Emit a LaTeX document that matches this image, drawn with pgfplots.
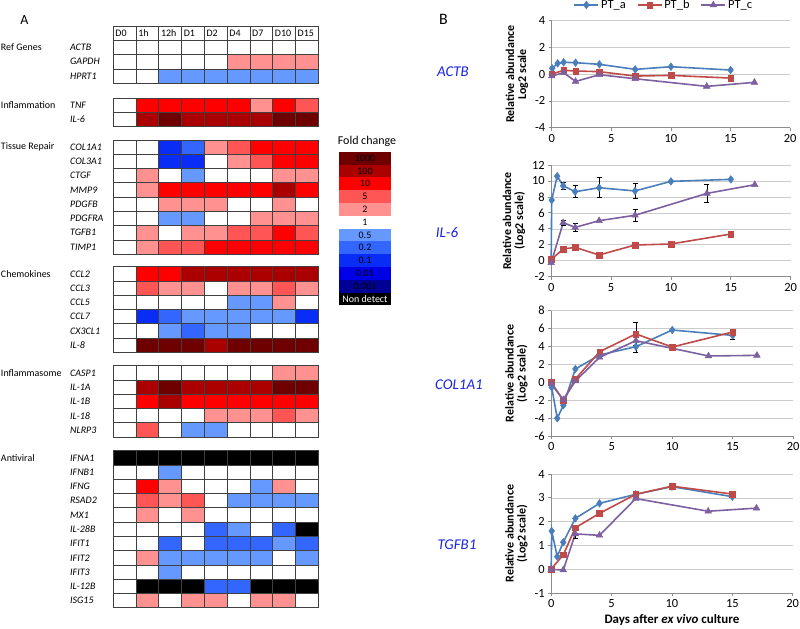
\documentclass[border=0pt]{standalone}
\usepackage{fontspec}
\setmainfont{Carlito}
\usepackage{pgfplots}
\pgfplotsset{compat=1.18}
\newcommand{\fs}[1]{\fontsize{#1}{#1}\selectfont}
\definecolor{cA}{RGB}{74,126,187}
\definecolor{cB}{RGB}{190,75,72}
\definecolor{cC}{RGB}{125,96,160}
\definecolor{gene}{RGB}{25,35,225}
\definecolor{gridc}{RGB}{64,64,64}
\definecolor{h0}{RGB}{0,0,0}
\definecolor{h1}{RGB}{0,0,150}
\definecolor{h2}{RGB}{0,0,230}
\definecolor{h3}{RGB}{10,45,245}
\definecolor{h4}{RGB}{51,102,255}
\definecolor{h5}{RGB}{102,153,255}
\definecolor{h6}{RGB}{255,255,255}
\definecolor{h7}{RGB}{255,145,145}
\definecolor{h8}{RGB}{255,85,85}
\definecolor{h9}{RGB}{255,0,0}
\definecolor{h10}{RGB}{170,0,0}
\definecolor{h11}{RGB}{110,0,0}
\pgfdeclareplotmark{cell}{\pgfsetstrokecolor{gridc}\pgfsetlinewidth{0.75pt}\pgfpathrectangle{\pgfpoint{-11.39bp}{-7.14bp}}{\pgfpoint{22.78bp}{14.28bp}}\pgfusepathqfillstroke}
\pgfdeclareplotmark{key}{\pgfpathrectangle{\pgfpoint{-26bp}{-6.4bp}}{\pgfpoint{52bp}{12.8bp}}\pgfusepathqfill}
\pgfplotsset{
 hm/.style 2 args={
   scale only axis, width=205bp, height=#2,
   xmin=-0.5, xmax=8.5, ymin=-0.5, ymax=#1, y dir=reverse,
   xtick={-0.5,0.5,...,8.5}, ytick={-0.5,0.5,...,#1},
   xticklabels={}, yticklabels={}, major tick length=0pt,
   grid=major, grid style={draw=gridc, line width=0.75pt},
   axis line style={draw=gridc, line width=0.9pt},
   clip=false},
 cls/.style={scatter, only marks, point meta=explicit symbolic,
   scatter/classes={0={fill=h0},1={fill=h1},2={fill=h2},3={fill=h3},4={fill=h4},5={fill=h5},
     6={fill=h6},7={fill=h7},8={fill=h8},9={fill=h9},10={fill=h10},11={fill=h11}}},
 hmcells/.style={cls, mark=cell},
 lp/.style={
   scale only axis, xmin=0, xmax=20, xtick={0,5,10,15,20},
   axis lines*=left, axis line style={black!45, line width=0.8pt},
   ymajorgrids, grid style={black!20, line width=0.6pt},
   tick style={black!45, line width=0.8pt}, tick align=outside, major tick length=3bp,
   ticklabel style={font=\fs{12.5}}, /pgf/number format/assume math mode=true,
   ylabel style={align=center, font=\fs{12}\bfseries},
   clip=false,
   every axis plot/.append style={line width=1.6pt}},
 sa/.style={color=cA, mark=diamond*, mark size=3.8bp, mark options={solid, line width=0.5pt}},
 sb/.style={color=cB, mark=square*, mark size=2.8bp, mark options={solid, line width=0.5pt}},
 sc/.style={color=cC, mark=triangle*, mark size=3.8bp, mark options={solid, line width=0.5pt}},
 eb/.style={draw=none, mark=none, forget plot, error bars/y dir=both, error bars/y explicit,
   error bars/error bar style={draw=black, line width=0.6pt},
   error bars/error mark options={rotate=90, draw=black, mark size=2.5bp, line width=0.6pt}},
}
\tikzset{genelab/.style={anchor=west, xshift=-43.3bp, font=\fs{10}\itshape, inner sep=0pt},
 grplab/.style={anchor=west, xshift=-112.5bp, font=\fs{10}, inner sep=0pt},
 hdlab/.style={anchor=west, xshift=2bp, font=\fs{10}, inner sep=0pt},
 keylab/.style={font=\fs{10}}}
\newcommand{\glab}[2]{\node[genelab] at (axis cs:-0.5,#1) {#2};}
\newcommand{\grp}[2]{\node[grplab] at (axis cs:-0.5,#1) {#2};}
\begin{document}
\begin{tikzpicture}
\useasboundingbox (0,0) rectangle (800bp,-629bp);
\node[font=\fs{14}] at (24.5bp,-20.5bp) {A};
\node[font=\fs{16}] at (443.5bp,-19.5bp) {B};
% ---- Ref genes (with header row)
\begin{axis}[hm={3.5}{57.2bp}, at={(113.3bp,-26bp)}, anchor=north west]
\addplot[hmcells] table[row sep=\\, x expr={mod(\coordindex,9)}, y expr={floor(\coordindex/9)+1}, meta=c] {c\\
6\\6\\6\\6\\6\\6\\6\\6\\6\\
6\\6\\6\\6\\6\\7\\7\\7\\7\\
6\\6\\5\\5\\5\\5\\5\\5\\5\\
};
\node[hdlab] at (axis cs:-0.5,0) {D0};
\node[hdlab] at (axis cs:0.5,0) {1h};
\node[hdlab] at (axis cs:1.5,0) {12h};
\node[hdlab] at (axis cs:2.5,0) {D1};
\node[hdlab] at (axis cs:3.5,0) {D2};
\node[hdlab] at (axis cs:4.5,0) {D4};
\node[hdlab] at (axis cs:5.5,0) {D7};
\node[hdlab] at (axis cs:6.5,0) {D10};
\node[hdlab] at (axis cs:7.5,0) {D15};
\grp{1}{Ref Genes}
\glab{1}{ACTB}\glab{2}{GAPDH}\glab{3}{HPRT1}
\end{axis}
% ---- Inflammation
\begin{axis}[hm={1.5}{28.6bp}, at={(113.3bp,-98bp)}, anchor=north west]
\addplot[hmcells] table[row sep=\\, x expr={mod(\coordindex,9)}, y expr={floor(\coordindex/9)}, meta=c] {c\\
6\\9\\9\\9\\9\\9\\7\\9\\8\\
6\\10\\11\\10\\10\\10\\10\\11\\11\\
};
\grp{0}{Inflammation}
\glab{0}{TNF}\glab{1}{IL-6}
\end{axis}
% ---- Tissue repair
\begin{axis}[hm={7.5}{114.2bp}, at={(113.3bp,-140bp)}, anchor=north west]
\addplot[hmcells] table[row sep=\\, x expr={mod(\coordindex,9)}, y expr={floor(\coordindex/9)}, meta=c] {c\\
6\\6\\3\\4\\7\\8\\9\\9\\9\\
6\\6\\3\\3\\6\\7\\8\\9\\9\\
6\\7\\6\\5\\6\\6\\6\\7\\7\\
6\\7\\9\\9\\9\\9\\9\\10\\9\\
6\\6\\7\\7\\7\\6\\6\\7\\6\\
6\\6\\5\\5\\6\\6\\7\\7\\7\\
6\\7\\6\\7\\7\\8\\8\\9\\8\\
6\\7\\8\\8\\9\\9\\9\\9\\9\\
};
\grp{0}{Tissue Repair}
\glab{0}{COL1A1}\glab{1}{COL3A1}\glab{2}{CTGF}\glab{3}{MMP9}
\glab{4}{PDGFB}\glab{5}{PDGFRA}\glab{6}{TGFB1}\glab{7}{TIMP1}
\end{axis}
% ---- Chemokines
\begin{axis}[hm={5.5}{85.7bp}, at={(113.3bp,-266.7bp)}, anchor=north west]
\addplot[hmcells] table[row sep=\\, x expr={mod(\coordindex,9)}, y expr={floor(\coordindex/9)}, meta=c] {c\\
6\\9\\9\\10\\10\\10\\10\\10\\10\\
6\\8\\7\\7\\6\\7\\7\\8\\7\\
6\\6\\6\\6\\6\\5\\5\\7\\6\\
6\\3\\4\\5\\5\\5\\5\\5\\3\\
6\\6\\5\\4\\5\\5\\6\\6\\6\\
6\\11\\11\\11\\10\\11\\11\\11\\11\\
};
\grp{0}{Chemokines}
\glab{0}{CCL2}\glab{1}{CCL3}\glab{2}{CCL5}\glab{3}{CCL7}\glab{4}{CX3CL1}\glab{5}{IL-8}
\end{axis}
% ---- Inflammasome
\begin{axis}[hm={4.5}{71.4bp}, at={(113.3bp,-365.7bp)}, anchor=north west]
\addplot[hmcells] table[row sep=\\, x expr={mod(\coordindex,9)}, y expr={floor(\coordindex/9)}, meta=c] {c\\
6\\6\\6\\6\\6\\6\\6\\7\\7\\
6\\10\\11\\10\\10\\10\\10\\11\\11\\
6\\9\\10\\9\\9\\9\\9\\9\\9\\
6\\6\\6\\6\\7\\7\\7\\8\\7\\
6\\8\\6\\5\\5\\6\\6\\6\\6\\
};
\grp{0}{Inflammasome}
\glab{0}{CASP1}\glab{1}{IL-1A}\glab{2}{IL-1B}\glab{3}{IL-18}\glab{4}{NLRP3}
\end{axis}
% ---- Antiviral
\begin{axis}[hm={10.5}{157.1bp}, at={(113.3bp,-450.7bp)}, anchor=north west]
\addplot[hmcells] table[row sep=\\, x expr={mod(\coordindex,9)}, y expr={floor(\coordindex/9)}, meta=c] {c\\
0\\0\\0\\0\\0\\0\\0\\0\\0\\
6\\6\\5\\6\\6\\6\\6\\6\\6\\
6\\9\\7\\6\\6\\6\\5\\7\\6\\
6\\8\\7\\8\\6\\5\\5\\5\\5\\
6\\7\\6\\7\\6\\6\\6\\6\\6\\
6\\6\\6\\6\\4\\5\\6\\4\\0\\
6\\6\\4\\6\\4\\4\\4\\5\\4\\
6\\7\\5\\5\\5\\5\\5\\6\\5\\
6\\6\\5\\6\\6\\6\\6\\6\\6\\
6\\0\\0\\0\\4\\4\\0\\0\\0\\
6\\7\\6\\7\\7\\6\\7\\7\\6\\
};
\grp{0}{Antiviral}
\glab{0}{IFNA1}\glab{1}{IFNB1}\glab{2}{IFNG}\glab{3}{RSAD2}\glab{4}{MX1}\glab{5}{IL-28B}
\glab{6}{IFIT1}\glab{7}{IFIT2}\glab{8}{IFIT3}\glab{9}{IL-12B}\glab{10}{ISG15}
\end{axis}
% ---- Fold change key
\node[font=\fs{12}] at (367bp,-141bp) {Fold change};
\begin{axis}[scale only axis, width=52bp, height=153.6bp, at={(339bp,-151.7bp)}, anchor=north west,
  xmin=-0.5, xmax=0.5, ymin=-0.5, ymax=11.5, y dir=reverse, hide axis, clip=false]
\addplot[cls, mark=key] table[row sep=\\, x expr=0, y expr=\coordindex, meta=c]
 {c\\11\\10\\9\\8\\7\\6\\5\\4\\3\\2\\1\\0\\};
\end{axis}
\node[keylab] at (365bp,-158.1bp) {1000};
\node[keylab] at (365bp,-170.9bp) {100};
\node[keylab] at (365bp,-183.7bp) {10};
\node[keylab] at (365bp,-196.5bp) {5};
\node[keylab] at (365bp,-209.3bp) {2};
\node[keylab] at (365bp,-222.1bp) {1};
\node[keylab] at (365bp,-234.9bp) {0.5};
\node[keylab] at (365bp,-247.7bp) {0.2};
\node[keylab] at (365bp,-260.5bp) {0.1};
\node[keylab] at (365bp,-273.3bp) {0.01};
\node[keylab] at (365bp,-286.1bp) {0.001};
\node[keylab, text=white] at (365bp,-298.9bp) {Non detect};
% ---- gene names panel B
\node[font=\fs{15}\itshape, text=gene] at (453bp,-72bp) {ACTB};
\node[font=\fs{15}\itshape, text=gene] at (447bp,-233bp) {IL-6};
\node[font=\fs{15}\itshape, text=gene] at (459bp,-385bp) {COL1A1};
\node[font=\fs{15}\itshape, text=gene] at (457bp,-545bp) {TGFB1};
% ---- ACTB
\begin{axis}[lp, at={(551.7bp,-20.7bp)}, anchor=north west, width=238.5bp, height=107bp,
  ymin=-4, ymax=4, ytick={-4,-2,0,2,4}, ylabel={Relative abundance\\Log2 scale},
  legend columns=3,
  legend style={draw=none, fill=none, font=\fs{12.5}, at={(0.47,1)}, anchor=center, yshift=15.7bp,
    /tikz/every even column/.append style={column sep=9bp}},
  legend image code/.code={\draw[#1, mark repeat=2, mark phase=2] plot coordinates {(0bp,0bp) (12bp,0bp) (24bp,0bp)};}]
\addplot[sa] coordinates {(0,0)(0.04,0.44)(0.5,0.81)(1,0.89)(2,0.86)(4,0.74)(7,0.36)(10,0.56)(15,0.31)};
\addlegendentry{PT\_a}
\addplot[sb] coordinates {(0,0.01)(1,0.29)(2,0.24)(4,0.19)(7,-0.14)(10,-0.09)(15,-0.29)};
\addlegendentry{PT\_b}
\addplot[sc] coordinates {(0,-0.14)(1,0.11)(2,-0.54)(4,-0.04)(7,-0.34)(13,-0.91)(17,-0.61)};
\addlegendentry{PT\_c}
\end{axis}
% ---- IL-6
\begin{axis}[lp, at={(551.2bp,-165bp)}, anchor=north west, width=239.5bp, height=111.7bp,
  ymin=-2, ymax=12, ytick={-2,0,...,12}, ylabel={Relative abundance\\(Log2 scale)}]
\addplot[sa] coordinates {(0,0)(0.04,7.6)(0.5,10.6)(1,9.4)(2,8.65)(4,9.15)(7,8.75)(10,9.95)(15,10.2)};
\addplot[sb] coordinates {(0,0.15)(1,1.47)(2,1.68)(4,0.72)(7,1.97)(10,2.1)(15,3.35)};
\addplot[sc] coordinates {(0,-0.25)(1,4.77)(2,4.18)(4,5.02)(7,5.7)(13,8.44)(17,9.53)};
\addplot[eb] coordinates {(1,9.4) +- (0,0.4) (2,8.65) +- (0,0.75) (4,9.15) +- (0,1.25) (7,8.75) +- (0,0.9)};
\addplot[eb] coordinates {(1,4.77) +- (0,0.35) (2,4.18) +- (0,0.55) (7,5.7) +- (0,0.8) (13,8.44) +- (0,1.15)};
\end{axis}
% ---- COL1A1
\begin{axis}[lp, at={(551.2bp,-310.7bp)}, anchor=north west, width=242bp, height=125.3bp,
  ymin=-6, ymax=8, ytick={-6,-4,...,8}, ylabel={Relative abundance\\(Log2 scale)}]
\addplot[sa] coordinates {(0,0)(0.04,-0.56)(0.5,-4.02)(1,-2.57)(2,1.49)(4,3.05)(7,3.98)(10,5.84)(15,5.24)};
\addplot[sb] coordinates {(0,0.03)(1,-2.05)(2,0.37)(4,3.42)(7,5.4)(10,3.94)(15,5.62)};
\addplot[sc] coordinates {(0,-0.19)(1,-1.94)(2,0.14)(4,2.79)(7,4.65)(13,2.94)(17,3.01)};
\addplot[eb] coordinates {(7,3.98) +- (0,0.6) (15,5.24) +- (0,0.45)};
\addplot[eb] coordinates {(7,5.4) +- (0,1.25) (10,3.94) +- (0,0.3)};
\end{axis}
% ---- TGFB1
\begin{axis}[lp, at={(551.2bp,-474bp)}, anchor=north west, width=241.5bp, height=119.3bp,
  ymin=-1, ymax=4, ytick={-1,0,...,4}, ylabel={Relative abundance\\(Log2 scale)},
  xlabel={Days after \textit{ex vivo} culture}, xlabel style={font=\fs{13}\bfseries}]
\addplot[sa] coordinates {(0,0)(0.04,1.61)(0.5,0.54)(1,1.14)(2,2.14)(4,2.77)(7,3.15)(10,3.47)(15,3.05)};
\addplot[sb] coordinates {(0,0.02)(1,0.61)(2,1.75)(4,2.35)(7,3.15)(10,3.49)(15,3.16)};
\addplot[sc] coordinates {(0,0)(1,-0.02)(2,1.49)(4,1.43)(7,2.97)(13,2.44)(17,2.57)};
\addplot[eb] coordinates {(2,1.49) +- (0,0.2)};
\end{axis}
\end{tikzpicture}
\end{document}
